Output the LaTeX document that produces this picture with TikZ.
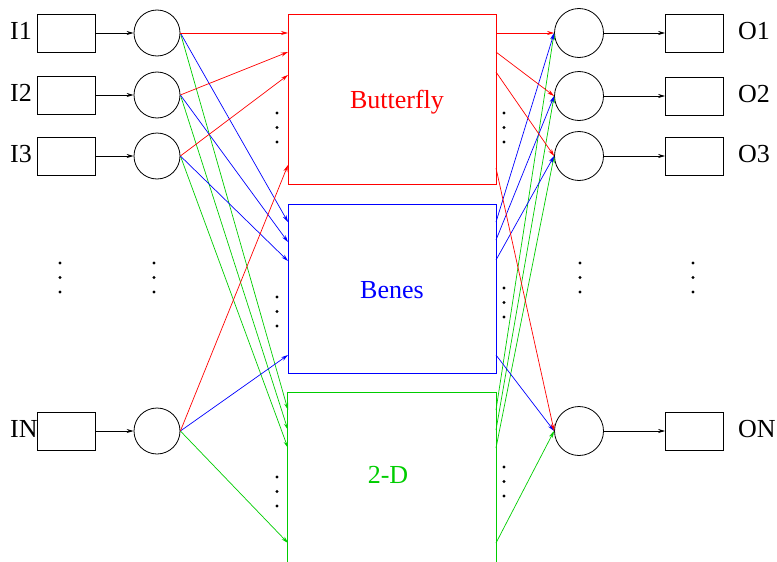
\documentclass[tikz,border=0pt]{standalone}
\usepackage{fontspec}
\setmainfont{Liberation Serif}
\usetikzlibrary{arrows.meta}
\definecolor{fred}{rgb}{1,0,0}
\definecolor{fblue}{rgb}{0,0,1}
\definecolor{fgreen}{RGB}{0,205,0}
\begin{document}
\begin{tikzpicture}[x=1pt,y=-1pt,
  lbl/.style={font=\fontsize{26}{31}\selectfont, inner sep=0pt},
  iobox/.style={draw, line width=0.8pt, minimum width=58pt, minimum height=38pt, inner sep=0pt},
  lcirc/.style={draw, circle, line width=0.8pt, minimum size=46pt, inner sep=0pt},
  rcirc/.style={draw, circle, line width=0.8pt, minimum size=49pt, inner sep=0pt},
  arr/.style={line width=0.7pt, -{Stealth[length=7pt,width=4pt]}},
  bigbox/.style={line width=0.8pt, minimum width=208pt, minimum height=170pt, inner sep=0pt},
  dotmark/.style={fill=black}
]
\useasboundingbox (0,0) rectangle (777,562);

% input side
\foreach \n/\y/\t in {1/33/I1, 2/95/I2, 3/156/I3, N/431/IN}{
  \node[lbl, anchor=base west] (il\n) at (10,\y+6) {\t};
  \node[iobox] (ib\n) at (66,\y) {};
  \node[lcirc] (ic\n) at (157,\y) {};
  \draw[arr] (ib\n) -- (ic\n);
}
% output side
\foreach \n/\y/\t in {1/33/O1, 2/96/O2, 3/156/O3, N/431/ON}{
  \node[rcirc] (oc\n) at (579,\y) {};
  \node[iobox] (ob\n) at (694.5,\y) {};
  \node[lbl, anchor=base west] (ol\n) at (738,\y+6) {\t};
  \draw[arr] (oc\n) -- (ob\n);
}

% big boxes
\node[bigbox, draw=fred] (bf) at (392,99) {};
\node[lbl, text=fred, anchor=base] (bft) at (397,108) {Butterfly};
\node[bigbox, draw=fblue, minimum height=169pt] (bn) at (392,288.5) {};
\node[lbl, text=fblue, anchor=base] (bnt) at (392,298) {Benes};
\node[bigbox, minimum height=169pt] (td) at (392,477.5) {};
\draw[fgreen, line width=0.8pt] (td.south west) -- (td.north west) -- (td.north east) -- (td.south east);
\node[lbl, text=fgreen, anchor=base] (tdt) at (388,483) {2-D};

% connection points on the box edges
\foreach \n/\yl/\yr in {1/33/33, 2/52/52, 3/75/72, N/165/168}{
  \coordinate (bfL\n) at (288,\yl); \coordinate (bfR\n) at (496,\yr);}
\foreach \n/\yl/\yr in {1/222/222, 2/242/240, 3/261/260, N/355/355}{
  \coordinate (bnL\n) at (288,\yl); \coordinate (bnR\n) at (496,\yr);}
\foreach \n/\yl/\yr in {1/410/410, 2/430/430, 3/448/448, N/543/543}{
  \coordinate (tdL\n) at (288,\yl); \coordinate (tdR\n) at (496,\yr);}

% connectors
\foreach \n in {1,2,3,N}{
  \draw[arr, fgreen] (ic\n.east) -- (tdL\n);
  \draw[arr, fblue] (ic\n.east) -- (bnL\n);
  \draw[arr, fred] (ic\n.east) -- (bfL\n);
  \draw[arr, fgreen] (tdR\n) -- (oc\n.west);
  \draw[arr, fblue] (bnR\n) -- (oc\n.west);
  \draw[arr, fred] (bfR\n) -- (oc\n.west);
}

% vertical ellipsis dots
\foreach \x/\y in {60/263, 154/263, 580/263, 693/263, 277/113, 504/113, 277/297, 504/288, 277/477, 504/467}{
  \fill[dotmark] (\x,\y) circle (1.6pt);
  \fill[dotmark] (\x,\y+14.5) circle (1.6pt);
  \fill[dotmark] (\x,\y+29) circle (1.6pt);
}
\end{tikzpicture}
\end{document}
